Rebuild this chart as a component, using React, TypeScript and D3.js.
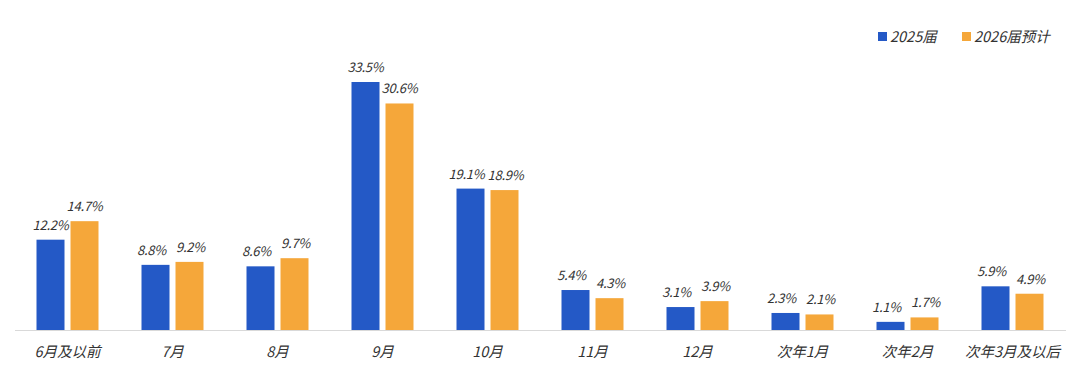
import React from "react";
import * as d3 from "d3";

const categories = ["6月及以前", "7月", "8月", "9月", "10月", "11月", "12月", "次年1月", "次年2月", "次年3月及以后"];
const series2025 = [12.2, 8.8, 8.6, 33.5, 19.1, 5.4, 3.1, 2.3, 1.1, 5.9];
const series2026 = [14.7, 9.2, 9.7, 30.6, 18.9, 4.3, 3.9, 2.1, 1.7, 4.9];
const seriesNames = ["2025届", "2026届预计"];
const colors = ["#2459C6", "#F5A73A"];

const W = 1080;
const H = 375;
const left = 15;
const right = 1065;
const baseline = 330;
const font = "'Noto Sans CJK SC', 'Noto Sans', sans-serif";

export default function App() {
  const x0 = d3.scaleBand<string>().domain(categories).range([left, right]).paddingInner(0).paddingOuter(0);
  const y = d3.scaleLinear().domain([0, 33.5]).range([baseline, 82]);
  const barW = 28;
  const gap = 6;
  const all = [series2025, series2026];

  return (
    <svg width={W} height={H} style={{ position: "absolute", left: 0, top: 0, background: "#fff" }} fontFamily={font}>
      <rect width={W} height={H} fill="#fff" />
      {categories.map((c, i) => {
        const cx = (x0(c) as number) + x0.bandwidth() / 2;
        const a = series2025[i];
        const b = series2026[i];
        const close = Math.abs(y(a) - y(b)) < 14;
        return (
          <g key={c}>
            {all.map((s, k) => {
              const bx = k === 0 ? cx - gap / 2 - barW : cx + gap / 2;
              const v = s[i];
              const shift = close ? (k === 0 ? -4 : 1) : 0;
              return (
                <g key={k}>
                  <rect x={bx} y={y(v)} width={barW} height={baseline - y(v)} fill={colors[k]} />
                  <text x={bx + barW / 2 + shift} y={y(v) - 10} textAnchor="middle" fontSize={13} fontStyle="italic" letterSpacing={-0.2} fill="#333">
                    {v.toFixed(1)}%
                  </text>
                </g>
              );
            })}
            <text x={cx} y={357} textAnchor="middle" fontSize={14.5} fontStyle="italic" fill="#333">
              {c}
            </text>
          </g>
        );
      })}
      <line x1={15} x2={1066} y1={baseline + 0.5} y2={baseline + 0.5} stroke="#d9d9d9" strokeWidth={1} />
      <g>
        <rect x={878} y={32} width={9} height={9} fill={colors[0]} />
        <text x={890} y={41.5} fontSize={14.5} fontStyle="italic" fill="#333">{seriesNames[0]}</text>
        <rect x={962} y={32} width={9} height={9} fill={colors[1]} />
        <text x={974} y={41.5} fontSize={14.5} fontStyle="italic" fill="#333">{seriesNames[1]}</text>
      </g>
    </svg>
  );
}
